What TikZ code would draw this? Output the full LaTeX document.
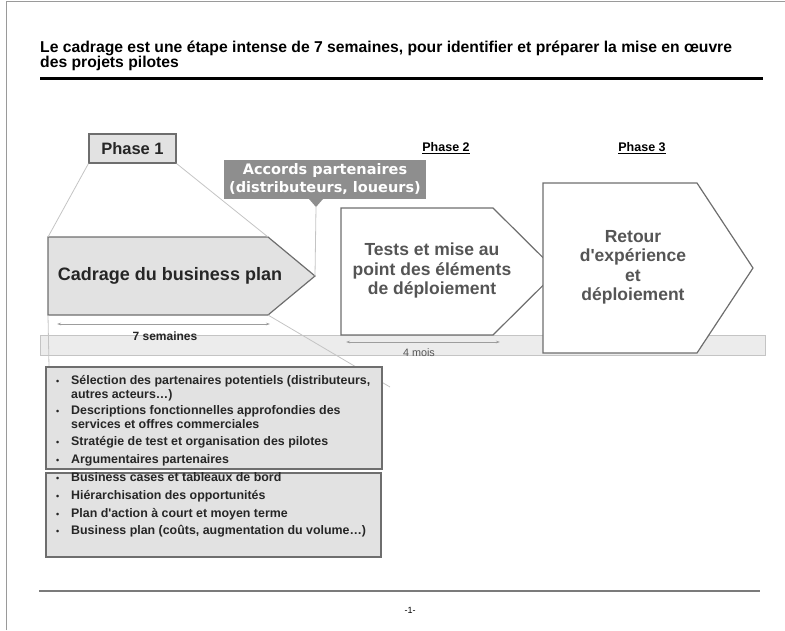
\documentclass[tikz,border=0pt]{standalone}
\usepackage{fontspec}
\setmainfont{Liberation Sans}
\newfontfamily\calloutfont{DejaVu Sans}
\usetikzlibrary{arrows.meta}
\definecolor{slideFrameGray}{HTML}{9A9A9A}
\definecolor{slideBorderGray}{HTML}{6E6E6E}
\definecolor{slideFillGray}{HTML}{E2E2E2}
\definecolor{slideCalloutGray}{HTML}{8E8E8E}
\definecolor{slideBandGray}{HTML}{ECECEC}
\definecolor{slideLineGray}{HTML}{C4C4C4}
\definecolor{slideTextGray}{HTML}{555555}
\tikzset{
    sbox/.style={draw=slideBorderGray, line width=1.2pt, fill=slideFillGray, inner sep=0pt, align=center},
    scallout/.style={fill=slideCalloutGray, text=white, inner sep=0pt, align=center, font=\calloutfont\fontsize{14.5}{18}\selectfont\bfseries},
    schev/.style={draw=slideBorderGray, line width=1.2pt, line join=miter},
    schevtext/.style={text=slideTextGray, align=center, font=\fontsize{17.5}{19.5}\selectfont\bfseries},
    szoom/.style={draw=slideLineGray, line width=0.8pt},
    sspan/.style={{Stealth[length=4pt,width=2.5pt]}-{Stealth[length=4pt,width=2.5pt]}, draw=slideLineGray!80!black, line width=0.8pt},
    sitem/.style={anchor=west, inner sep=0pt, text height=1.5ex, text depth=0.3ex, text=black!85, font=\fontsize{12.4}{13}\selectfont\bfseries}
}

\begin{document}
\begin{tikzpicture}[x=1pt, y=-1pt]
    \useasboundingbox (0,0) rectangle (785,630);
    \draw[slideFrameGray, line width=1pt] (6,630) -- (6,1.5) -- (785,1.5);
    \node[anchor=west, inner sep=0pt, font=\fontsize{15.7}{16}\selectfont\bfseries] (title1) at (40,48) {Le cadrage est une étape intense de 7 semaines, pour identifier et préparer la mise en œuvre};
    \node[anchor=west, inner sep=0pt, font=\fontsize{15.7}{16}\selectfont\bfseries] (title2) at (40,63.5) {des projets pilotes};
    \draw[line width=3pt] (40,78) -- (763,78);

    % bande de temps
    \draw[fill=slideBandGray, draw=slideLineGray, line width=0.8pt] (40,335) rectangle (765,355);

    \node[sbox, minimum width=87, minimum height=29, font=\fontsize{16.5}{18}\selectfont\bfseries, text=black!85] (phase1) at (132.5,148.5) {Phase 1};
    \node[font=\fontsize{12.5}{14}\selectfont\bfseries, inner sep=1pt] (phase2) at (446,148) {\underline{Phase 2}};
    \node[font=\fontsize{12.5}{14}\selectfont\bfseries, inner sep=1pt] (phase3) at (642,148) {\underline{Phase 3}};

    \draw[schev, fill=slideFillGray] (48,237) coordinate (cadNW) -- (268,237) coordinate (cadNE) -- (315,276) coordinate (cadTip) -- (268,315) coordinate (cadSE) -- (48,315) coordinate (cadSW) -- cycle;
    \node[schevtext, text=black!85, font=\fontsize{18}{19}\selectfont\bfseries] (cadrage) at (170,276) {Cadrage du business plan};
    \draw[schev, fill=white] (341,208) -- (493,208) -- (557,271.5) -- (493,335) -- (341,335) -- cycle;
    \node[schevtext] (tests) at (432,270.5) {Tests et mise au\\point des éléments\\de déploiement};
    \draw[schev, fill=white] (543,183) -- (697,183) -- (753,268) -- (697,353) -- (543,353) -- cycle;
    \node[schevtext] (retour) at (633,267.5) {Retour\\d\textquotesingle expérience\\et\\déploiement};

    \node[scallout, minimum width=202, minimum height=39] (accords) at (325,179.5) {Accords partenaires\\(distributeurs, loueurs)};
    \coordinate (accordsTip) at (316,207);
    \fill[slideCalloutGray] (309,199) -- (accordsTip) -- (323,199) -- cycle;
    \draw[szoom] (accordsTip) -- (cadTip);

    \coordinate (zoomEnd) at (390,387);
    \draw[szoom] (phase1.south west) -- (cadNW);
    \draw[szoom] (phase1.south east) -- (cadNE);
    \draw[szoom] (cadSE) -- (zoomEnd);
    \draw[szoom] (cadSW) -- (49,367);

    \coordinate (semA) at (57,324);
    \coordinate (semB) at (270,324);
    \draw[sspan] (semA) -- (semB);
    \node[font=\fontsize{12}{13}\selectfont\bfseries, text=black!85, inner sep=0pt] (semaines) at (165,336) {7 semaines};
    \coordinate (moisA) at (346,342);
    \coordinate (moisB) at (500,342);
    \draw[sspan] (moisA) -- (moisB);
    \node[font=\fontsize{10.8}{12}\selectfont, text=slideTextGray, inner sep=0pt] (mois) at (419,353) {4 mois};

    \node[sbox, minimum width=336, minimum height=102] (box1) at (214,418) {};
    \node[sbox, minimum width=335, minimum height=84] (box2) at (213.5,515) {};
    \foreach \y in {381.7,411.7,442.7,460.7,478.3,496,514,531.7}
        \node[sitem, font=\fontsize{9}{10}\selectfont\bfseries] (dot\y) at (56,\y) {\textbullet};
    \foreach \y/\t in {381.7/{Sélection des partenaires potentiels (distributeurs,},
                       395/{autres acteurs…)},
                       411.7/{Descriptions fonctionnelles approfondies des},
                       425/{services et offres commerciales},
                       442.7/{Stratégie de test et organisation des pilotes},
                       460.7/{Argumentaires partenaires},
                       478.3/{Business cases et tableaux de bord},
                       496/{Hiérarchisation des opportunités},
                       514/{Plan d\textquotesingle action à court et moyen terme},
                       531.7/{Business plan (coûts, augmentation du volume…)}}
        \node[sitem] (item\y) at (71,\y) {\t};

    \draw[slideFrameGray!80!black, line width=1.5pt] (39,591) -- (760,591);
    \node[font=\fontsize{9}{10}\selectfont, inner sep=0pt] (page) at (410,610) {-1-};
\end{tikzpicture}
\end{document}
